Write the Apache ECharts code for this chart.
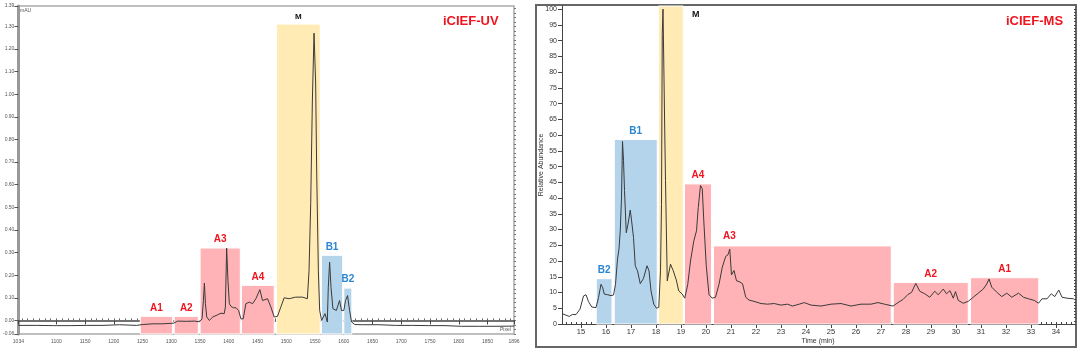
<!DOCTYPE html>
<html>
<head>
<meta charset="utf-8">
<script src="https://cdn.jsdelivr.net/npm/echarts@6/dist/echarts.min.js"></script>
<style>
html, body { margin: 0; background: #fff; }
#chart { width: 1080px; height: 353px; }
</style>
</head>
<body>
<div id="chart"></div>
<script>
// iCIEF-UV trace (pixel vs mAU)
const uvPixel = [1034, 1066, 1095, 1097.5, 1100, 1124, 1152, 1181, 1210, 1239, 1251, 1268, 1285, 1304, 1311, 1326, 1340, 1349,
	1353.4, 1355.8, 1357.5, 1359.3, 1361.6, 1366, 1372, 1380.6, 1386.4, 1392, 1394, 1396.2, 1398.5, 1400.9, 1403.8, 1408, 1412.5,
	1417, 1421, 1425, 1429.7, 1435.5, 1441.3, 1447, 1454, 1458.6, 1467.3, 1473, 1479, 1484.6, 1490.4, 1496.2, 1505, 1516, 1528,
	1536.6, 1539.5, 1542.4, 1545.3, 1548.2, 1551, 1552.8, 1555.7, 1558, 1561.4, 1567.3, 1571.3, 1573, 1575.3, 1577.7, 1581, 1587,
	1592.6, 1596, 1600, 1603, 1606.5, 1610, 1613.5, 1619, 1632, 1661, 1690, 1719, 1747, 1776, 1805, 1834, 1863, 1896];
const uvAbs = [-0.022, -0.022, -0.023, -0.029, -0.023, -0.023, -0.022, -0.022, -0.019, -0.022, -0.018, -0.015, -0.015, -0.012, -0.003, -0.004, -0.003, -0.006,
	0.007, 0.088, 0.165, 0.074, 0.015, 0.0, 0.015, 0.025, 0.032, 0.03, 0.059, 0.32, 0.177, 0.074, 0.062, 0.056, 0.056,
	0.044, 0.007, 0.007, 0.074, 0.081, 0.074, 0.096, 0.136, 0.088, 0.096, 0.06, 0.015, 0.018, 0.059, 0.1, 0.096, 0.103, 0.103,
	0.096, 0.22, 0.516, 0.97, 1.27, 1.05, 0.66, 0.22, 0.044, 0.0, 0.03, -0.007, 0.147, 0.258, 0.147, 0.052, 0.044,
	0.088, 0.044, 0.044, 0.088, 0.11, 0.044, -0.007, -0.018, -0.019, -0.019, -0.022, -0.022, -0.023, -0.023, -0.026, -0.026, -0.026, -0.025];

// iCIEF-MS trace (time vs relative abundance)
const msTime = [14.24, 14.3, 14.53, 14.65, 14.8, 14.96, 15.1, 15.2, 15.3, 15.43, 15.6, 15.7, 15.8, 15.87, 15.93, 16.06, 16.2, 16.3,
	16.38, 16.46, 16.52, 16.57, 16.62, 16.66, 16.7, 16.74, 16.81, 16.88, 16.97, 17.02, 17.1, 17.17, 17.26, 17.37, 17.5, 17.64,
	17.72, 17.8, 17.91, 18.02, 18.11, 18.18, 18.22, 18.25, 18.28, 18.32, 18.35, 18.38, 18.45, 18.5, 18.58, 18.69, 18.81, 18.91,
	19.05, 19.15, 19.27, 19.38, 19.51, 19.62, 19.69, 19.78, 19.85, 19.91, 20.01, 20.12, 20.25, 20.38, 20.52, 20.65, 20.79, 20.88,
	20.95, 21.02, 21.12, 21.22, 21.32, 21.46, 21.59, 21.72, 21.92, 22.2, 22.46, 22.73, 23.0, 23.26, 23.46, 23.73, 23.93, 24.2,
	24.6, 25.0, 25.4, 25.8, 26.2, 26.6, 26.88, 27.14, 27.48, 27.68, 27.88, 28.08, 28.22, 28.39, 28.55, 28.75, 28.95, 29.15,
	29.29, 29.49, 29.62, 29.76, 29.89, 29.98, 30.09, 30.29, 30.49, 30.69, 30.89, 31.09, 31.23, 31.32, 31.43, 31.63, 31.83, 32.03,
	32.23, 32.5, 32.7, 32.9, 33.13, 33.3, 33.44, 33.64, 33.81, 33.95, 34.11, 34.24, 34.44, 34.71];
const msAbund = [3.3, 3.2, 2.4, 3.0, 3.0, 4.7, 8.9, 9.3, 7.1, 5.4, 5.2, 8.4, 12.6, 11.5, 9.5, 9.3, 9.0, 9.2,
	12.6, 20.6, 23.8, 29.6, 40, 58, 52, 42.4, 29, 31.7, 36.2, 33, 27.5, 18.5, 16.9, 12.8, 14.5, 18.5,
	16.9, 10.5, 6.3, 5.0, 5.3, 16.9, 38, 92, 100, 78, 61, 45.5, 13.7, 13.7, 19, 16.9, 14, 10.5,
	9.5, 8.2, 12.6, 20, 26.3, 29.6, 37, 44, 43, 33, 18.5, 9.3, 8.2, 8.5, 12.6, 18, 21.5, 22,
	23.8, 15.6, 17, 13.7, 13.5, 12.8, 8.5, 7.6, 7.2, 6.5, 6.3, 6.5, 6.0, 6.3, 5.7, 6.3, 6.8, 6.0,
	5.7, 6.3, 6.5, 5.7, 6.3, 6.3, 6.8, 6.3, 5.7, 6.8, 7.8, 9.4, 10, 12.9, 10.4, 9.6, 8.5, 10.4,
	9.3, 11.1, 9.6, 10.6, 8.2, 10.3, 7.5, 6.6, 7.2, 8.5, 9.8, 11.1, 12.7, 14.3, 11.7, 10.1, 8.7, 9.8,
	8.5, 9.8, 8.5, 8.0, 7.5, 6.6, 8.0, 8.0, 9.6, 8.7, 10.8, 8.5, 8.2, 8.0];

// shaded fractions
const uvBandNames = ['A1', 'A2', 'A3', 'A4', 'M', 'B1', 'B2'];
const uvBandStart = [1246, 1305, 1350, 1422, 1483, 1561, 1600];
const uvBandEnd = [1302, 1347, 1420, 1479, 1559, 1598, 1614];
const uvBandTop = [0.018, 0.018, 0.32, 0.155, 1.31, 0.288, 0.143];

const msBandNames = ['B2', 'B1', 'M', 'A4', 'A3', 'A2', 'A1'];
const msBandStart = [15.61, 16.33, 18.1, 19.14, 20.3, 27.49, 30.58];
const msBandEnd = [16.24, 18.05, 19.09, 20.22, 27.41, 30.49, 33.31];
const msBandTop = [14.4, 58.6, 101, 44.5, 24.8, 13.2, 14.7];

// axis ticks
const uvXLabels = [1034, 1100, 1150, 1200, 1250, 1300, 1350, 1400, 1450, 1500, 1550, 1600, 1650, 1700, 1750, 1800, 1850, 1896];
const uvYLabels = [-0.06, 0, 0.1, 0.2, 0.3, 0.4, 0.5, 0.6, 0.7, 0.8, 0.9, 1.0, 1.1, 1.2, 1.3, 1.39];
const msXLabels = [15, 16, 17, 18, 19, 20, 21, 22, 23, 24, 25, 26, 27, 28, 29, 30, 31, 32, 33, 34];
const msYLabels = [0, 5, 10, 15, 20, 25, 30, 35, 40, 45, 50, 55, 60, 65, 70, 75, 80, 85, 90, 95, 100];

const range = (a, b, s) => { const r = []; for (let v = a; v <= b + 1e-9; v += s) r.push(+v.toFixed(3)); return r; };
const uvXMinor = range(1040, 1890, 10);
const uvYMinor = range(-0.06, 1.38, 0.02);
const msXMinor = range(14.4, 34.6, 0.2);
const msYMinor = range(0, 100, 1);

const RED = '#ffb3b6', BLUE = '#b4d4ec', YELLOW = '#ffebb3';
const colorOf = (n) => n[0] === 'A' ? RED : n[0] === 'B' ? BLUE : YELLOW;
const textOf = (n) => n[0] === 'A' ? '#f0141e' : n[0] === 'B' ? '#2b86d2' : '#111';
const FONT = 'Arial, "Liberation Sans", sans-serif';

const bands = (names, start, end, top, bottom, special) => names.map((n, i) => [
	{
		name: n, xAxis: start[i], yAxis: bottom,
		itemStyle: {color: colorOf(n), borderColor: '#fff', borderWidth: 1},
		label: {...(special[n] || {}), color: textOf(n)},
	},
	{xAxis: end[i], yAxis: top[i]},
]);

const chart = echarts.init(document.getElementById('chart'));
chart.setOption({
	animation: false,
	textStyle: {fontFamily: FONT},
	grid: [
		{left: 15, top: 6, width: 499, height: 328, show: true, borderColor: '#aaa', borderWidth: 1.5, backgroundColor: '#fff'},
		{left: 562, top: 6, width: 512, height: 318},
	],
	xAxis: [
		{gridIndex: 0, type: 'value', min: 1034, max: 1896,
			axisLine: {lineStyle: {color: '#444', width: 1.5}},
			axisTick: {customValues: uvXLabels, length: 4, lineStyle: {color: '#444'}},
			axisLabel: {customValues: uvXLabels, fontSize: 5, color: '#555', margin: 5, formatter: (v) => String(v)},
			splitLine: {show: false}},
		{gridIndex: 1, type: 'value', min: 14.24, max: 34.72,
			name: 'Time (min)', nameLocation: 'middle', nameGap: 14, nameMoveOverlap: false, nameTextStyle: {fontSize: 7, color: '#333'},
			axisLine: {lineStyle: {color: '#444', width: 1}},
			axisTick: {customValues: msXLabels, length: 4, lineStyle: {color: '#444'}},
			axisLabel: {customValues: msXLabels, fontSize: 7.5, color: '#333', margin: 4},
			splitLine: {show: false}},
		{gridIndex: 0, type: 'value', min: 1034, max: 1896, axisLine: {show: false}, axisLabel: {show: false},
			axisTick: {customValues: uvXMinor, length: 2, lineStyle: {color: '#666'}}, splitLine: {show: false}},
		{gridIndex: 1, type: 'value', min: 14.24, max: 34.72, axisLine: {show: false}, axisLabel: {show: false},
			axisTick: {customValues: msXMinor, length: 2, lineStyle: {color: '#444'}}, splitLine: {show: false}},
	],
	yAxis: [
		{gridIndex: 0, type: 'value', min: -0.06, max: 1.39,
			axisLine: {show: true, lineStyle: {color: '#999', width: 3}},
			axisTick: {show: true, customValues: uvYLabels, length: 4, lineStyle: {color: '#555'}},
			axisLabel: {customValues: uvYLabels, fontSize: 5, color: '#555', margin: 4, formatter: (v) => v.toFixed(2)},
			splitLine: {show: false}},
		{gridIndex: 1, type: 'value', min: 0, max: 101,
			name: 'Relative Abundance', nameLocation: 'middle', nameGap: 17, nameMoveOverlap: false, nameTextStyle: {fontSize: 7, color: '#333'},
			axisLine: {show: true, lineStyle: {color: '#444', width: 1}},
			axisTick: {show: true, customValues: msYLabels, length: 4, lineStyle: {color: '#444'}},
			axisLabel: {customValues: msYLabels, fontSize: 7, color: '#333', margin: 5},
			splitLine: {show: false}},
		{gridIndex: 0, type: 'value', min: -0.06, max: 1.39, axisLine: {show: false}, axisLabel: {show: false},
			axisTick: {show: true, customValues: uvYMinor, length: 2, lineStyle: {color: '#777'}}, splitLine: {show: false}},
		{gridIndex: 1, type: 'value', min: 0, max: 101, axisLine: {show: false}, axisLabel: {show: false},
			axisTick: {show: true, customValues: msYMinor, length: 2, lineStyle: {color: '#444'}}, splitLine: {show: false}},
	],
	graphic: [
		{type: 'rect', shape: {x: 536, y: 5, width: 540, height: 342}, style: {fill: 'none', stroke: '#666', lineWidth: 2}, silent: true},
		{type: 'text', left: 20, top: 8, style: {text: 'mAU', fontSize: 5, fill: '#555', fontFamily: FONT}},
		{type: 'text', left: 500, top: 327, style: {text: 'Pixel', fontSize: 5, fill: '#555', fontFamily: FONT}},
		{type: 'text', left: 443, top: 15, style: {text: 'iCIEF-UV', fontSize: 13, fontWeight: 'bold', fill: '#f0141e', fontFamily: FONT}},
		{type: 'text', left: 1006, top: 15, style: {text: 'iCIEF-MS', fontSize: 13, fontWeight: 'bold', fill: '#f0141e', fontFamily: FONT}},
	],
	series: [
		{type: 'line', xAxisIndex: 0, yAxisIndex: 0, data: [], z: 1, silent: true,
			markArea: {silent: true, label: {position: 'top', distance: 3, fontSize: 10, fontWeight: 'bold', fontFamily: FONT},
				data: bands(uvBandNames, uvBandStart, uvBandEnd, uvBandTop, -0.06, {M: {fontSize: 8}})}},
		{type: 'line', xAxisIndex: 0, yAxisIndex: 0, z: 3, symbol: 'none', silent: true,
			data: uvPixel.map((p, i) => [p, uvAbs[i]]),
			lineStyle: {color: '#3a3a3a', width: 1}},
		{type: 'line', xAxisIndex: 1, yAxisIndex: 1, data: [], z: 1, silent: true,
			markArea: {silent: true, label: {position: 'top', distance: 3, fontSize: 10, fontWeight: 'bold', fontFamily: FONT},
				data: bands(msBandNames, msBandStart, msBandEnd, msBandTop, 0, {
					M: {position: [34, 5], fontSize: 9},
					A3: {position: [10, -14]},
				})}},
		{type: 'line', xAxisIndex: 1, yAxisIndex: 1, z: 3, symbol: 'none', silent: true,
			data: msTime.map((t, i) => [t, msAbund[i]]),
			lineStyle: {color: '#3a3a3a', width: 1}},
	],
});
</script>
</body>
</html>
